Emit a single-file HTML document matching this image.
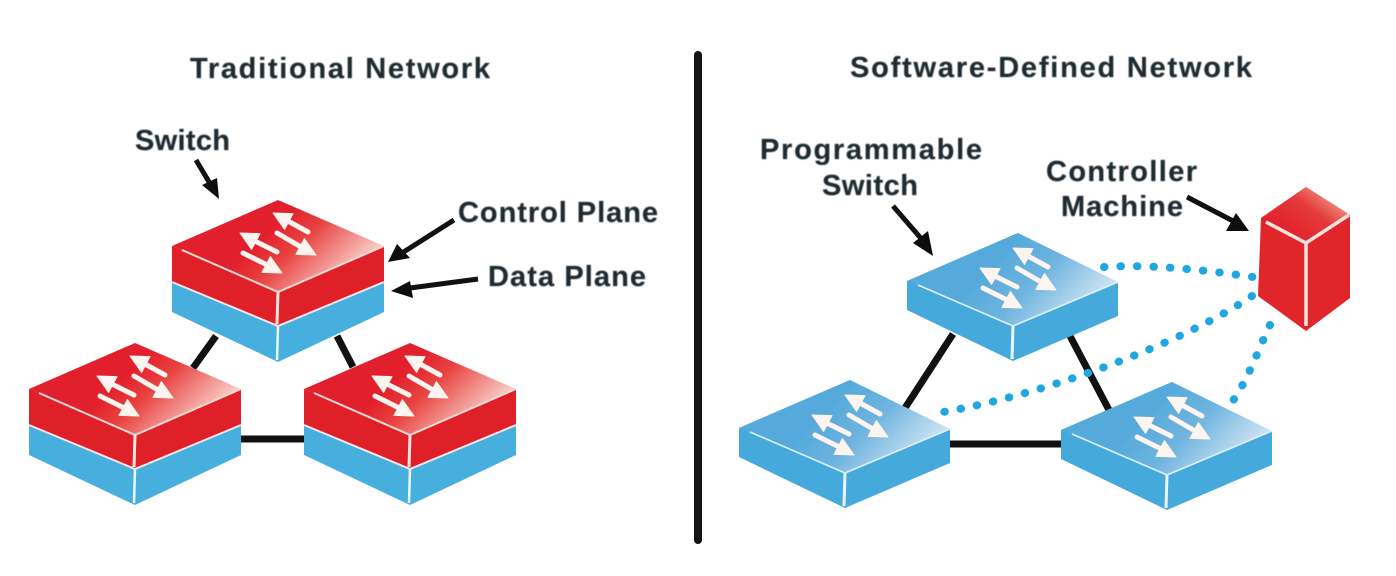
<!DOCTYPE html>
<html><head><meta charset="utf-8"><style>
html,body{margin:0;padding:0;background:#fff}
svg{display:block}
text{font-family:"Liberation Sans",sans-serif;font-weight:700;font-size:29px;fill:#1f2b31;stroke:#1f2b31;stroke-width:.2;filter:blur(.4px)}
</style></head><body>
<svg width="1396" height="576" viewBox="0 0 1396 576" xmlns="http://www.w3.org/2000/svg">
<defs>
<linearGradient id="rt" x1="0.45" y1="0.35" x2="1" y2="0.6"><stop offset="0" stop-color="#e21f2c"/><stop offset="0.3" stop-color="#e8413f"/><stop offset="1" stop-color="#fbe3dc"/></linearGradient>
<linearGradient id="bt" x1="0.4" y1="0.35" x2="1" y2="0.6"><stop offset="0" stop-color="#55aadb"/><stop offset="0.4" stop-color="#6fb4df"/><stop offset="1" stop-color="#d8e9f5"/></linearGradient>
<linearGradient id="ct" x1="0.2" y1="0.8" x2="0.95" y2="0.2"><stop offset="0" stop-color="#e2202c"/><stop offset="0.55" stop-color="#e43a3a"/><stop offset="1" stop-color="#f3a595"/></linearGradient>
<g id="ar">
<g stroke="#fdf3ef" stroke-width="5" stroke-linecap="round" fill="none">
<path d="M10.8 21.5L30 32"/><path d="M-22.2 41.5L-1 52"/><path d="M-1 33L22.2 46.5"/><path d="M-35 53L-11.8 64.5"/>
</g>
<g fill="#fdf3ef" stroke="#fdf3ef" stroke-width="1" stroke-linejoin="round">
<path d="M-5 13L15 13.6L6.6 29.4Z"/>
<path d="M-38 33L-18 33.6L-26.4 49.4Z"/>
<path d="M38 55L26.4 38.6L18 54.4Z"/>
<path d="M4 73L-7.6 56.6L-16 72.4Z"/>
</g>
</g>
<g id="rs">
<path d="M-106 82L-106 112L0 162L106 112L106 82L0 125Z" fill="#46afde"/>
<path d="M-106 46L-106 82L0 125L106 82L106 46L0 92Z" fill="#df2029"/>
<path d="M0 0L-106 46L0 92L106 46Z" fill="url(#rt)"/>
<path d="M-96 50L0 92L106 46" fill="none" stroke="#fbd9d4" stroke-width="2"/>
<path d="M0 92L-1 124" fill="none" stroke="#fbe5e0" stroke-width="3"/>
<path d="M-106 82L0 126L106 82" fill="none" stroke="#f5e4e6" stroke-width="2"/>
<path d="M0 126L-1 160" fill="none" stroke="#eef8fc" stroke-width="2.5"/>
<use href="#ar"/>
</g>
<g id="bs">
<path d="M0 0L-111 48L-111 77L-5 128L100 83L100 49L-5 93Z" fill="#46a9dc"/>
<path d="M0 0L-111 48L-5 93L100 49Z" fill="url(#bt)"/>
<path d="M-100 52L-5 93L100 49" fill="none" stroke="#dcf0f9" stroke-width="1.6"/>
<path d="M-5 93L-6 126" fill="none" stroke="#eaf6fb" stroke-width="3"/>
<g transform="translate(0 2)"><use href="#ar"/></g>
</g>
</defs>

<rect width="1396" height="576" fill="#fff"/>
<rect x="694" y="51" width="8" height="493" rx="4" fill="#141414"/>

<text x="190" y="78" textLength="300">Traditional Network</text>
<text x="850" y="77" textLength="402">Software-Defined Network</text>
<text x="135" y="150" textLength="95">Switch</text>
<text x="458" y="222" textLength="200">Control Plane</text>
<text x="488" y="286" textLength="158">Data Plane</text>
<text x="760" y="159" textLength="222">Programmable</text>
<text x="822" y="195" textLength="96">Switch</text>
<text x="1046" y="181" textLength="151">Controller</text>
<text x="1061" y="216" textLength="122">Machine</text>

<g stroke="#111" stroke-width="7" fill="none">
<path d="M216 336L193 368"/><path d="M337 336L353 367"/><path d="M240 439H306"/>
<path d="M953 334L905 408"/><path d="M1070 336L1109 410"/><path d="M950 444H1062"/>
</g>

<g stroke="#111" stroke-width="5" fill="none">
<path d="M196 160L212 187"/><path d="M454 220L402 253"/><path d="M478 279L410 288"/><path d="M893 206L925 243"/><path d="M1187 197L1235 222"/>
</g>
<path d="M219 199L202 185L217 178Z" fill="#0d0d0d"/>
<path d="M388 262L397 244L410 258Z" fill="#0d0d0d"/>
<path d="M391 291L410 281L413 298Z" fill="#0d0d0d"/>
<path d="M933 256L913 243L928 231Z" fill="#0d0d0d"/>
<path d="M1249 231L1226 231L1236 213Z" fill="#0d0d0d"/>

<g fill="none" stroke="#1fa7e2" stroke-width="8" stroke-linecap="round" stroke-dasharray="0.5 16">
<path d="M1104 267C1150 264 1205 270 1253 277"/>
<path d="M1252 296C1180 345 1030 400 930 414"/>
<path d="M1270 325C1258 350 1248 380 1232 402"/>
</g>

<use href="#rs" x="278" y="200"/>
<use href="#rs" x="135" y="343"/>
<use href="#rs" x="410" y="343"/>

<use href="#bs" x="1018" y="233"/>
<use href="#bs" x="850" y="380"/>
<use href="#bs" x="1172" y="382"/>

<path d="M1306 187L1261 218L1258 296L1306 331L1350 298L1350 215Z" fill="#e0252b"/>
<path d="M1306 187L1261 218L1304 242L1350 215Z" fill="url(#ct)"/>
<path d="M1266 222L1306 243L1349 215M1306 243L1306 326" fill="none" stroke="#fbe3de" stroke-width="3.5"/>
</svg>
</body></html>
